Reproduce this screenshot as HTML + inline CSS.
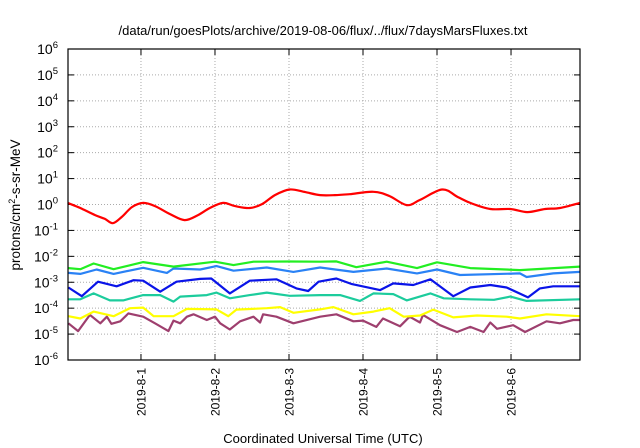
<!DOCTYPE html>
<html><head><meta charset="utf-8"><style>
body{margin:0;background:#fff;}
svg{display:block;font-family:"Liberation Sans",sans-serif;}
</style></head><body>
<svg id="chart" width="640" height="448" xmlns="http://www.w3.org/2000/svg">
<rect width="640" height="448" fill="#fff"/>
<text x="323" y="35" font-size="13" text-anchor="middle">/data/run/goesPlots/archive/2019-08-06/flux/../flux/7daysMarsFluxes.txt</text>
<text transform="translate(20,205) rotate(-90)" font-size="13.5" text-anchor="middle">protons/cm<tspan dy="-5" font-size="9">2</tspan><tspan dy="5">-s-sr-MeV</tspan></text>
<text x="323" y="443" font-size="13" text-anchor="middle">Coordinated Universal Time (UTC)</text>
<g id="grid"></g><g id="axes"></g><g id="series"></g>
<rect x="68" y="49" width="512" height="311" fill="none" stroke="#000" stroke-width="1.2"/>
</svg>
<script>
const xTickLabels=["2019-8-1","2019-8-2","2019-8-3","2019-8-4","2019-8-5","2019-8-6"];
const xTickDays=[0,1,2,3,4,5];
const yExponents=[-6,-5,-4,-3,-2,-1,0,1,2,3,4,5,6];
const redT=[-0.99,-0.82,-0.62,-0.49,-0.38,-0.26,-0.12,0.03,0.19,0.39,0.59,0.77,0.93,1.11,1.27,1.47,1.64,1.81,2.01,2.22,2.42,2.62,2.82,3.14,3.36,3.59,3.77,4.07,4.28,4.45,4.72,4.99,5.22,5.46,5.66,5.93];
const redV=[1.15,0.73,0.39,0.28,0.19,0.33,0.8,1.15,0.87,0.43,0.25,0.39,0.73,1.15,0.87,0.73,1.05,2.3,3.8,3.0,2.3,2.3,2.5,3.1,2.1,0.95,1.5,3.8,1.95,1.15,0.67,0.67,0.51,0.67,0.73,1.15];
const greenT=[-0.98,-0.82,-0.64,-0.37,0.03,0.44,1.0,1.25,1.52,2.01,2.42,2.64,2.91,3.32,3.73,4.0,4.45,5.12,5.93];
const greenV=[3.5e-3,3.2e-3,5.3e-3,3.2e-3,6e-3,4e-3,6.2e-3,4.6e-3,6.2e-3,6.3e-3,6.2e-3,6.4e-3,3.8e-3,6.2e-3,3.5e-3,5.9e-3,3.5e-3,2.95e-3,4e-3];
const lblueT=[-0.98,-0.82,-0.6,-0.37,0.03,0.35,0.44,0.8,1.02,1.25,1.7,2.06,2.42,2.87,3.32,3.73,4.0,4.31,5.12,5.21,5.57,5.93];
const lblueV=[2.3e-3,2.1e-3,3.1e-3,2.1e-3,3.6e-3,2.3e-3,3.4e-3,3.1e-3,4.2e-3,2.8e-3,3.7e-3,2.5e-3,3.7e-3,2.5e-3,3.4e-3,2.2e-3,3.1e-3,1.9e-3,2.2e-3,1.6e-3,2.2e-3,2.5e-3];
const blueT=[-0.98,-0.8,-0.58,-0.33,-0.1,0.03,0.26,0.48,0.8,0.95,1.2,1.47,1.83,2.1,2.26,2.4,2.64,2.85,3.23,3.41,3.68,3.91,4.22,4.45,4.72,4.94,5.23,5.39,5.57,5.93];
const blueV=[6.3e-4,2.9e-4,1.05e-3,7e-4,1.2e-3,1.15e-3,4.3e-4,1.05e-3,1.35e-3,1.4e-3,3.7e-4,1.15e-3,1.3e-3,5.8e-4,4.6e-4,1.05e-3,1.4e-3,8.5e-4,5e-4,9e-4,7.8e-4,1.3e-3,2.9e-4,6.3e-4,7.8e-4,6.3e-4,2.6e-4,5.8e-4,7e-4,7e-4];
const tealT=[-0.98,-0.82,-0.64,-0.42,-0.24,0.03,0.26,0.44,0.53,0.89,1.02,1.2,1.47,1.7,2.01,2.42,2.69,2.96,3.14,3.41,3.59,3.91,4.09,4.45,4.77,4.99,5.21,5.93];
const tealV=[2.2e-4,2.2e-4,3.7e-4,2e-4,2e-4,3.2e-4,3.2e-4,1.8e-4,2.8e-4,3.2e-4,4e-4,2.4e-4,3.2e-4,4e-4,3e-4,3.2e-4,3.2e-4,1.9e-4,3.7e-4,3.5e-4,2e-4,3.7e-4,2.4e-4,2.2e-4,2.1e-4,2.8e-4,1.9e-4,2.2e-4];
const yellowT=[-0.98,-0.82,-0.64,-0.37,-0.15,0.03,0.17,0.44,0.62,1.02,1.18,1.29,1.7,1.88,2.06,2.42,2.6,2.87,3.14,3.36,3.55,3.77,3.95,4.22,4.54,4.94,5.12,5.48,5.93];
const yellowV=[4.9e-5,4e-5,7.4e-5,4.9e-5,1e-4,1.05e-4,4.9e-5,4.9e-5,9.4e-5,9e-5,4.9e-5,8.8e-5,1e-4,1.1e-4,6.6e-5,9e-5,1.1e-4,5.8e-5,7.4e-5,1e-4,4.7e-5,5.2e-5,8.8e-5,4.4e-5,5.2e-5,4.7e-5,4e-5,5.8e-5,4.9e-5];
const purpleT=[-0.98,-0.85,-0.69,-0.55,-0.46,-0.4,-0.28,-0.17,0.03,0.19,0.37,0.44,0.53,0.62,0.71,0.89,1.0,1.07,1.2,1.34,1.52,1.61,1.65,1.83,2.06,2.42,2.64,2.87,3.0,3.18,3.27,3.5,3.63,3.77,3.81,4.04,4.27,4.45,4.63,4.72,4.81,5.03,5.19,5.48,5.66,5.84,5.93];
const purpleV=[2.6e-5,1.3e-5,5.5e-5,2.6e-5,4.7e-5,2.5e-5,3.1e-5,6.3e-5,4.7e-5,2.6e-5,1.3e-5,3.3e-5,2.6e-5,4.7e-5,5.8e-5,3.5e-5,4.7e-5,2.6e-5,1.5e-5,3.1e-5,4.7e-5,2.8e-5,5.8e-5,4.7e-5,2.6e-5,4.7e-5,5.8e-5,3.1e-5,3.3e-5,1.9e-5,4e-5,2e-5,4.7e-5,2.8e-5,5.5e-5,2.2e-5,1.2e-5,1.9e-5,1.2e-5,2.8e-5,1.6e-5,2.2e-5,1.2e-5,3.1e-5,2.6e-5,3.5e-5,3.5e-5];

const NS="http://www.w3.org/2000/svg";
const L=68,R=580,T=49,B=360,D0=-0.986,D1=5.932;
function xs(d){return L+(d-D0)/(D1-D0)*(R-L);}
function ys(v){return B-(Math.log10(v)+6)/12*(B-T);}
function mk(tag,attrs,parent){const e=document.createElementNS(NS,tag);for(const k in attrs)e.setAttribute(k,attrs[k]);parent.appendChild(e);return e;}
const grid=document.getElementById('grid'),axes=document.getElementById('axes'),ser=document.getElementById('series');
yExponents.forEach(p=>{
  const y=ys(Math.pow(10,p));
  if(p>-6&&p<6){const g=mk('line',{x1:L,x2:R,y1:y,y2:y,stroke:'#aaa','stroke-width':1,'stroke-dasharray':'1,2'},grid);
  
  }
  const t1=mk('line',{x1:L,x2:L+6,y1:y,y2:y,stroke:'#000'},axes);
  
  
  const t2=mk('line',{x1:R-6,x2:R,y1:y,y2:y,stroke:'#000'},axes);
  
  
  const tx=mk('text',{x:L-10,y:y+5,'font-size':14,'text-anchor':'end'},axes);
  
  
  tx.appendChild(document.createTextNode('10'));
  const sp=mk('tspan',{dy:-6,'font-size':9.5},tx);sp.textContent=String(p);
});
xTickDays.forEach((d,i)=>{
  const x=xs(d);
  const g=mk('line',{x1:x,x2:x,y1:T,y2:B,stroke:'#aaa','stroke-width':1,'stroke-dasharray':'1,2'},grid);
  
  
  const t1=mk('line',{x1:x,x2:x,y1:B,y2:B-6,stroke:'#000'},axes);
  
  
  const t2=mk('line',{x1:x,x2:x,y1:T,y2:T+6,stroke:'#000'},axes);
  
  
  const tx=mk('text',{transform:`translate(${x+4.5},368) rotate(-90)`,'font-size':12,'text-anchor':'end'},axes);
  
  
  tx.textContent=xTickLabels[i];
});
function draw(t,v,color,name,smooth){
  const P=t.map((d,i)=>[xs(d),ys(v[i])]);
  let dStr='M'+P[0][0].toFixed(1)+','+P[0][1].toFixed(1);
  for(let i=1;i<P.length;i++){
    if(smooth){
      const p0=P[Math.max(i-2,0)],p1=P[i-1],p2=P[i],p3=P[Math.min(i+1,P.length-1)];
      const c1=[p1[0]+(p2[0]-p0[0])/6,p1[1]+(p2[1]-p0[1])/6];
      const c2=[p2[0]-(p3[0]-p1[0])/6,p2[1]-(p3[1]-p1[1])/6];
      dStr+=` C${c1[0].toFixed(1)},${c1[1].toFixed(1)} ${c2[0].toFixed(1)},${c2[1].toFixed(1)} ${p2[0].toFixed(1)},${p2[1].toFixed(1)}`;
    } else dStr+=' L'+P[i][0].toFixed(1)+','+P[i][1].toFixed(1);
  }
  const p=mk('path',{d:dStr,fill:'none',stroke:color,'stroke-width':2.2,'stroke-linejoin':'round'},ser);
  
  
}
draw(purpleT,purpleV,'#9e3f6e','series-purple',false);
draw(yellowT,yellowV,'#ffff00','series-yellow',false);
draw(tealT,tealV,'#1ccc9c','series-teal',false);
draw(blueT,blueV,'#0a14e8','series-blue',false);
draw(lblueT,lblueV,'#2a82f5','series-light-blue',false);
draw(greenT,greenV,'#22ee22','series-green',false);
draw(redT,redV,'#ff0000','series-red',true);
</script>
</body></html>
